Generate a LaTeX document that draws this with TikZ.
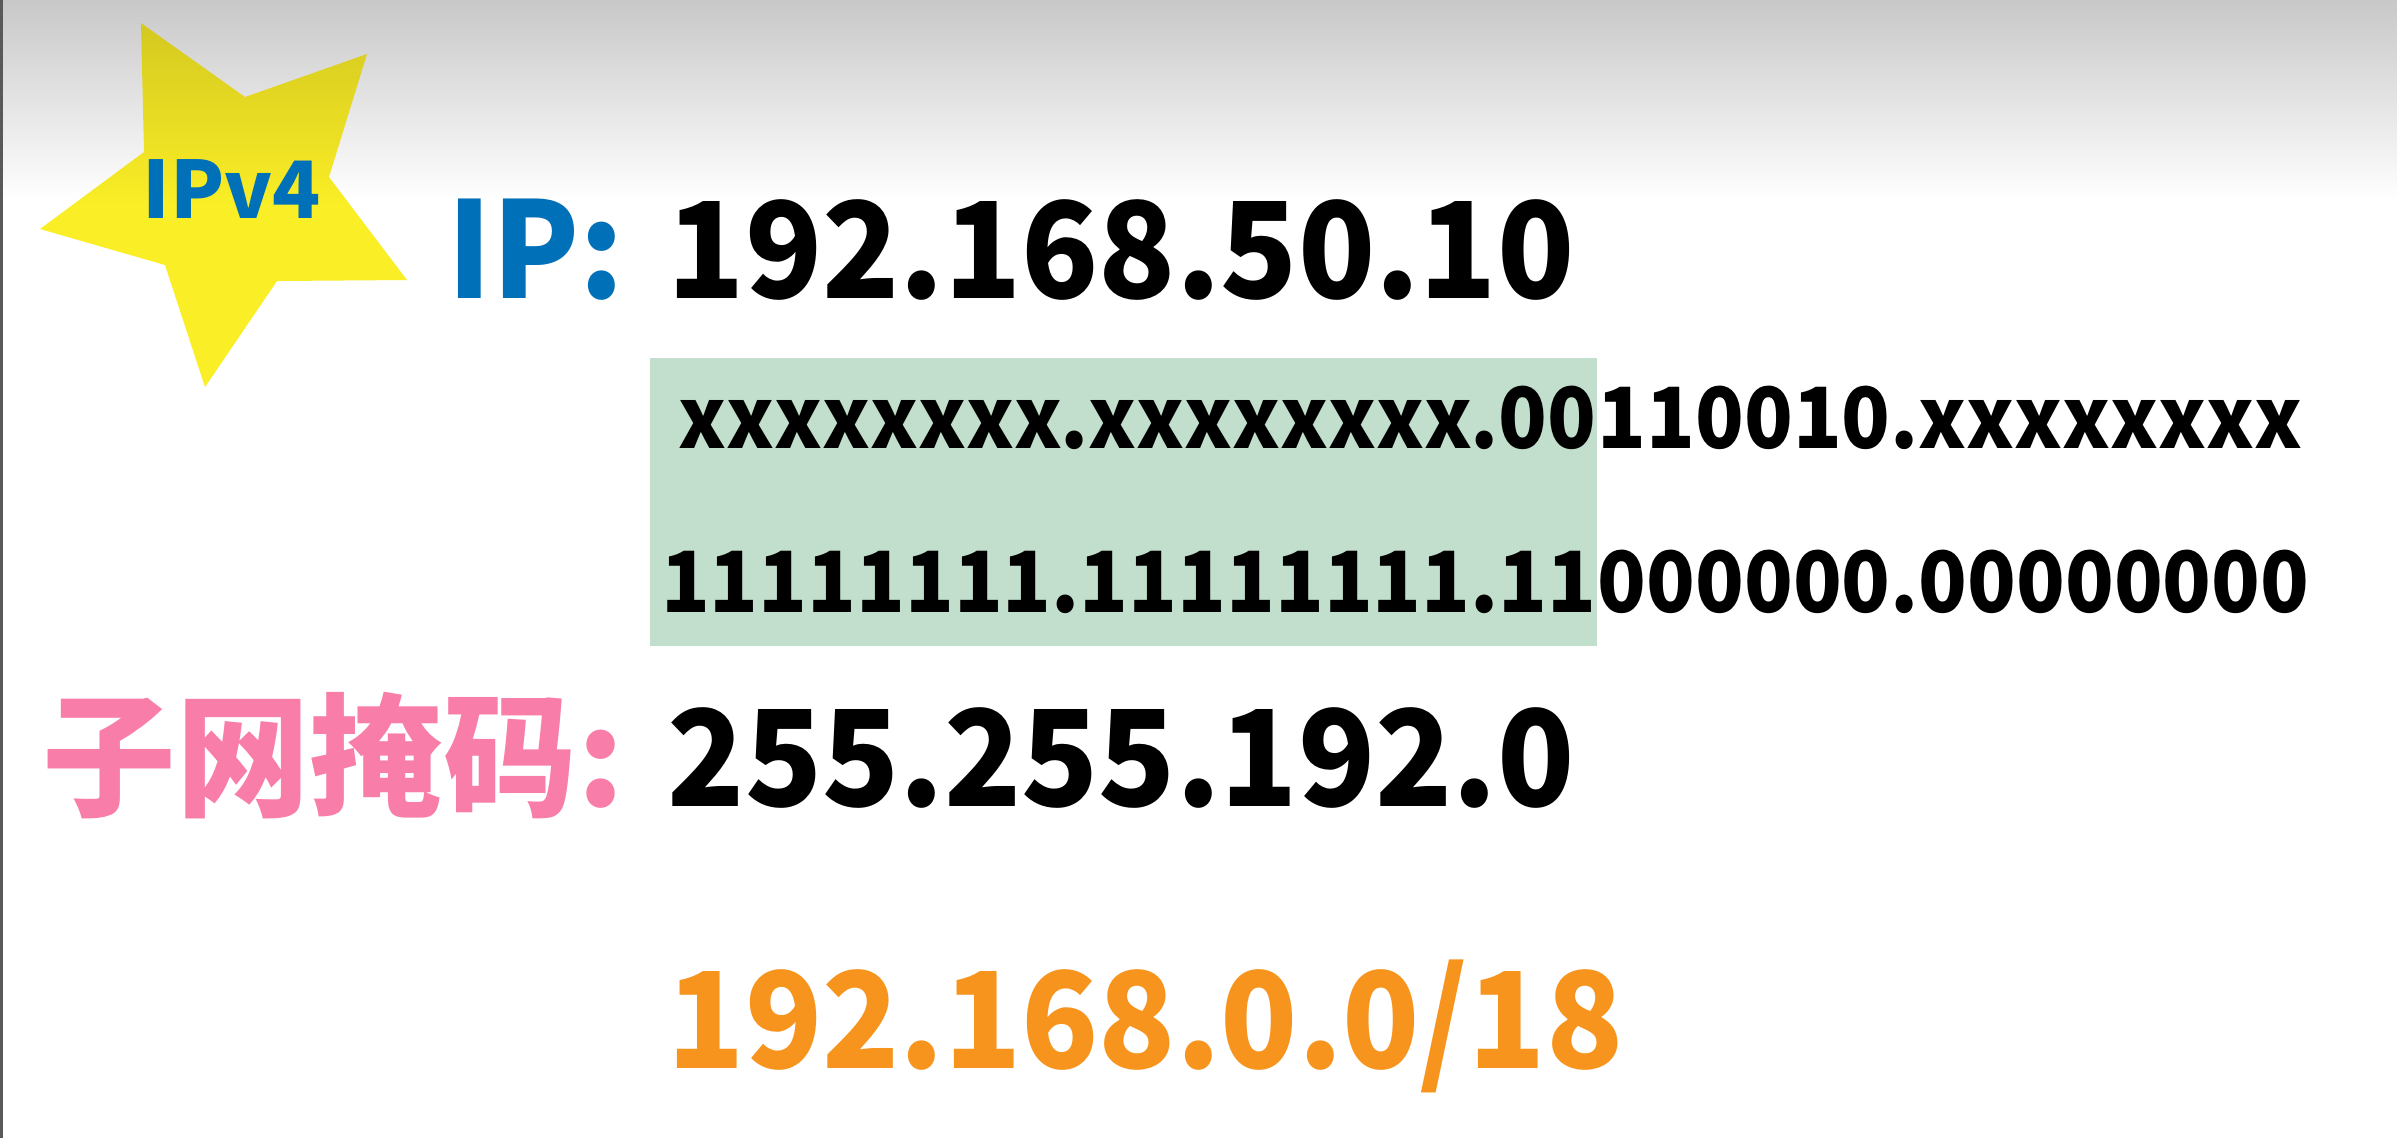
\documentclass[tikz,border=0pt]{standalone}
\usepackage{fontspec}
\setmainfont{Noto Sans CJK SC}[FakeStretch=0.95]
\newfontfamily\cjkwide{Noto Sans CJK SC}
\usetikzlibrary{positioning}
\definecolor{ipblue}{RGB}{0,112,184}
\definecolor{maskpink}{RGB}{248,125,168}
\definecolor{netorange}{RGB}{247,148,29}
\definecolor{maskgreen}{RGB}{193,223,204}
\definecolor{stardark}{RGB}{212,200,32}
\definecolor{starlight}{RGB}{250,238,38}
\definecolor{topgray}{RGB}{200,200,200}
\tikzstyle{bigtext} = [inner sep=0pt, font=\fontsize{38}{44}\selectfont\bfseries, anchor=base west]
\tikzstyle{bintext} = [inner sep=0pt, font=\fontsize{24}{28}\selectfont\bfseries]
\tikzstyle{badge} = [inner sep=0pt, font=\cjkwide\fontsize{22.5}{26}\selectfont\bfseries, text=ipblue]
\tikzstyle{maskbox} = [fill=maskgreen]

\begin{document}
\begin{tikzpicture}[x=0.01cm, y=-0.01cm]
\useasboundingbox (0,0) rectangle (2397,1138);
% slide background
\fill[white] (0,0) rectangle (2397,1138);
\shade[top color=topgray, bottom color=white] (0,0) rectangle (2397,200);
\fill[gray!70!black] (0,0) rectangle (3,1138);

% star
\shade[top color=stardark, bottom color=starlight, middle color=starlight]
  (141,23) -- (245,97) -- (367,54) -- (329,177) -- (407,280) -- (277,281)
  -- (205,387) -- (165,265) -- (40,229) -- (144,152) -- cycle;
\node (ver) [badge] at (232,189) {IPv4};

\node (iplabel) [bigtext, text=ipblue] at (447,298) {IP:};
\node (ipaddr) [bigtext] at (667,298) {192.168.50.10};

\fill[maskbox] (650,358) rectangle (1597,646);
\node (bin1a) [bintext, anchor=base east] at (1597,448) {xxxxxxxx.xxxxxxxx.00};
\node (bin1b) [bintext, base right=0pt of bin1a] {110010.xxxxxxxx};
\node (bin2a) [bintext, anchor=base east] at (1597,612) {11111111.11111111.11};
\node (bin2b) [bintext, base right=0pt of bin2a] {000000.00000000};

\node (masklabel) [bigtext, font=\cjkwide\fontsize{38}{44}\selectfont\bfseries, text=maskpink] at (42,806) {子网掩码:};
\node (mask) [bigtext] at (667,806) {255.255.192.0};

\node (net) [bigtext, text=netorange] at (667,1068) {192.168.0.0/18};
\end{tikzpicture}
\end{document}
